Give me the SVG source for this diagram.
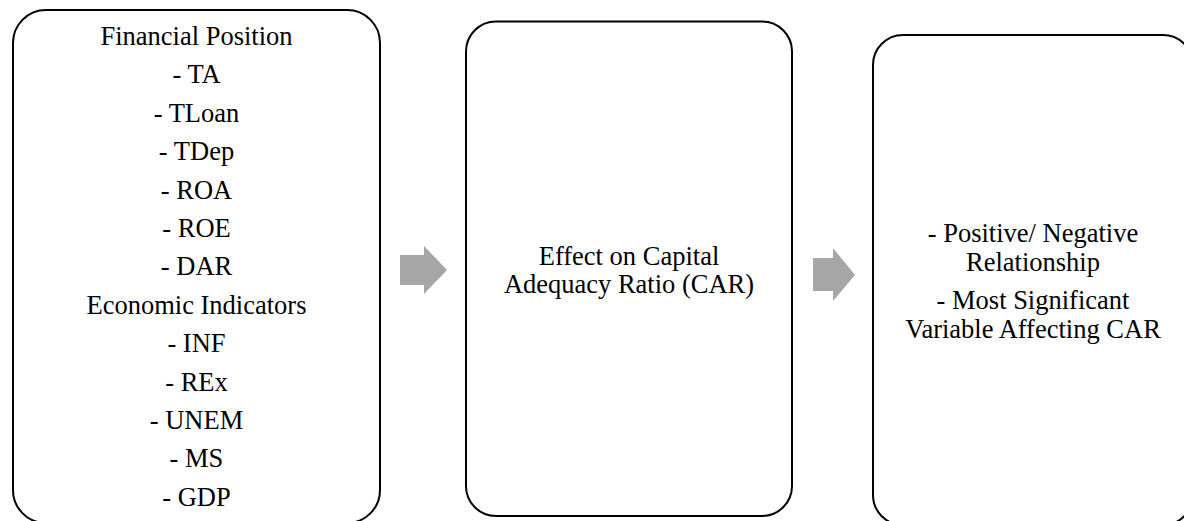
<svg xmlns="http://www.w3.org/2000/svg" width="1184" height="521" viewBox="0 0 1184 521">
  <style>
    .box { fill: #ffffff; stroke: #000000; stroke-width: 2; }
    .t { font-family: "Liberation Serif", "Times New Roman", serif; font-size: 26.5px; fill: #000000; text-anchor: middle; }
    .arrow { fill: #a6a6a6; stroke: none; }
  </style>
  <rect width="1184" height="521" fill="#ffffff"/>
  <g id="node-financial">
    <rect class="box" x="13" y="10" width="367" height="513" rx="33" ry="33"/>
    <text class="t" x="196.5" y="45">Financial Position</text>
    <text class="t" x="196.5" y="83.4">- TA</text>
    <text class="t" x="196.5" y="121.8">- TLoan</text>
    <text class="t" x="196.5" y="160.2">- TDep</text>
    <text class="t" x="196.5" y="198.6">- ROA</text>
    <text class="t" x="196.5" y="237">- ROE</text>
    <text class="t" x="196.5" y="275.4">- DAR</text>
    <text class="t" x="196.5" y="313.8">Economic Indicators</text>
    <text class="t" x="196.5" y="352.2">- INF</text>
    <text class="t" x="196.5" y="390.6">- REx</text>
    <text class="t" x="196.5" y="429">- UNEM</text>
    <text class="t" x="196.5" y="467.4">- MS</text>
    <text class="t" x="196.5" y="505.8">- GDP</text>
  </g>
  <g id="node-effect">
    <rect class="box" x="466" y="21.5" width="326" height="494.5" rx="30" ry="30"/>
    <text class="t" x="629" y="265">Effect on Capital</text>
    <text class="t" x="629" y="293">Adequacy Ratio (CAR)</text>
  </g>
  <g id="node-result">
    <rect class="box" x="873" y="35" width="320" height="490" rx="30" ry="30"/>
    <text class="t" x="1033" y="242">- Positive/ Negative</text>
    <text class="t" x="1033" y="271">Relationship</text>
    <text class="t" x="1033" y="309">- Most Significant</text>
    <text class="t" x="1033" y="338">Variable Affecting CAR</text>
  </g>
  <g id="connectors">
    <polygon class="arrow" points="400,255 424,255 424,246 447,270 424,294 424,285 400,285"/>
    <polygon class="arrow" points="813,258 833,258 833,248 855,275 833,301 833,291 813,291"/>
  </g>
</svg>
